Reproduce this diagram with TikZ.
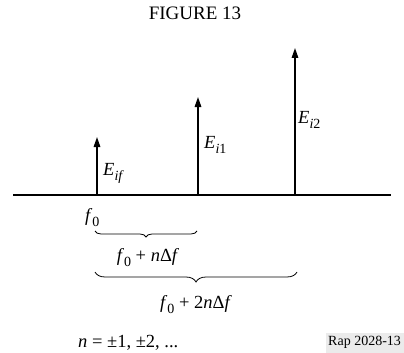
\documentclass[tikz,border=0pt]{standalone}
\usepackage{fontspec}
\setmainfont{Liberation Serif}
\usetikzlibrary{arrows.meta, decorations.pathreplacing}
\newcommand{\lowsub}[1]{\raisebox{-0.32em}{\fontsize{14}{14}\selectfont #1}}
\begin{document}
\begin{tikzpicture}[x=1pt, y=-1pt,
  spike/.style={line width=1.6pt, -{Triangle[length=10pt, width=6.5pt]}},
  axisline/.style={line width=1.2pt},
  freqbrace/.style={decorate, decoration={brace, mirror, amplitude=#1}, line width=0.8pt},
  lbl/.style={inner sep=0pt, anchor=base west, font=\fontsize{18.5}{20}\selectfont},
  tag/.style={inner sep=0pt, anchor=base west, font=\fontsize{14}{15}\selectfont}
]
  \useasboundingbox (0,0) rectangle (404,353);
  \node[inner sep=0pt, anchor=base, font=\fontsize{19}{21}\selectfont] (title) at (195,20) {FIGURE 13};
  % frequency axis
  \coordinate (axl) at (13,195);
  \coordinate (axr) at (391,195);
  \draw[axisline] (axl) -- (axr);
  % spectral lines
  \coordinate (b0) at (97,195);  \coordinate (t0) at (97,137);
  \coordinate (b1) at (198,195); \coordinate (t1) at (198,97);
  \coordinate (b2) at (295,195); \coordinate (t2) at (295,48);
  \draw[spike] (b0) -- (t0);
  \draw[spike] (b1) -- (t1);
  \draw[spike] (b2) -- (t2);
  \node[lbl] (eif) at (103,175) {\textit{E}\lowsub{\textit{if}}};
  \node[lbl] (ei1) at (204,148) {\textit{E}\lowsub{\textit{i}1}};
  \node[lbl] (ei2) at (298,123) {\textit{E}\lowsub{\textit{i}2}};
  % offsets
  \node[lbl] (f0) at (85,221) {\textit{f}\lowsub{0}};
  \coordinate (s0) at (95,231);  \coordinate (e1) at (197,231);
  \coordinate (s1) at (95,272);  \coordinate (e2) at (297,272);
  \draw[freqbrace=6pt] (s0) -- (e1);
  \draw[freqbrace=10pt] (s1) -- (e2);
  \node[lbl, anchor=base] (fn) at (148,261) {\textit{f}\lowsub{0} + \textit{n}Δ\textit{f}};
  \node[lbl, anchor=base] (f2n) at (196,308) {\textit{f}\lowsub{0} + 2\textit{n}Δ\textit{f}};
  \node[lbl] (nval) at (78,347) {\textit{n} = ±1, ±2, ...};
  \fill[black!8] (326,333) rectangle (404,353);
  \node[tag] (rap) at (328,345) {Rap 2028-13};
\end{tikzpicture}
\end{document}
